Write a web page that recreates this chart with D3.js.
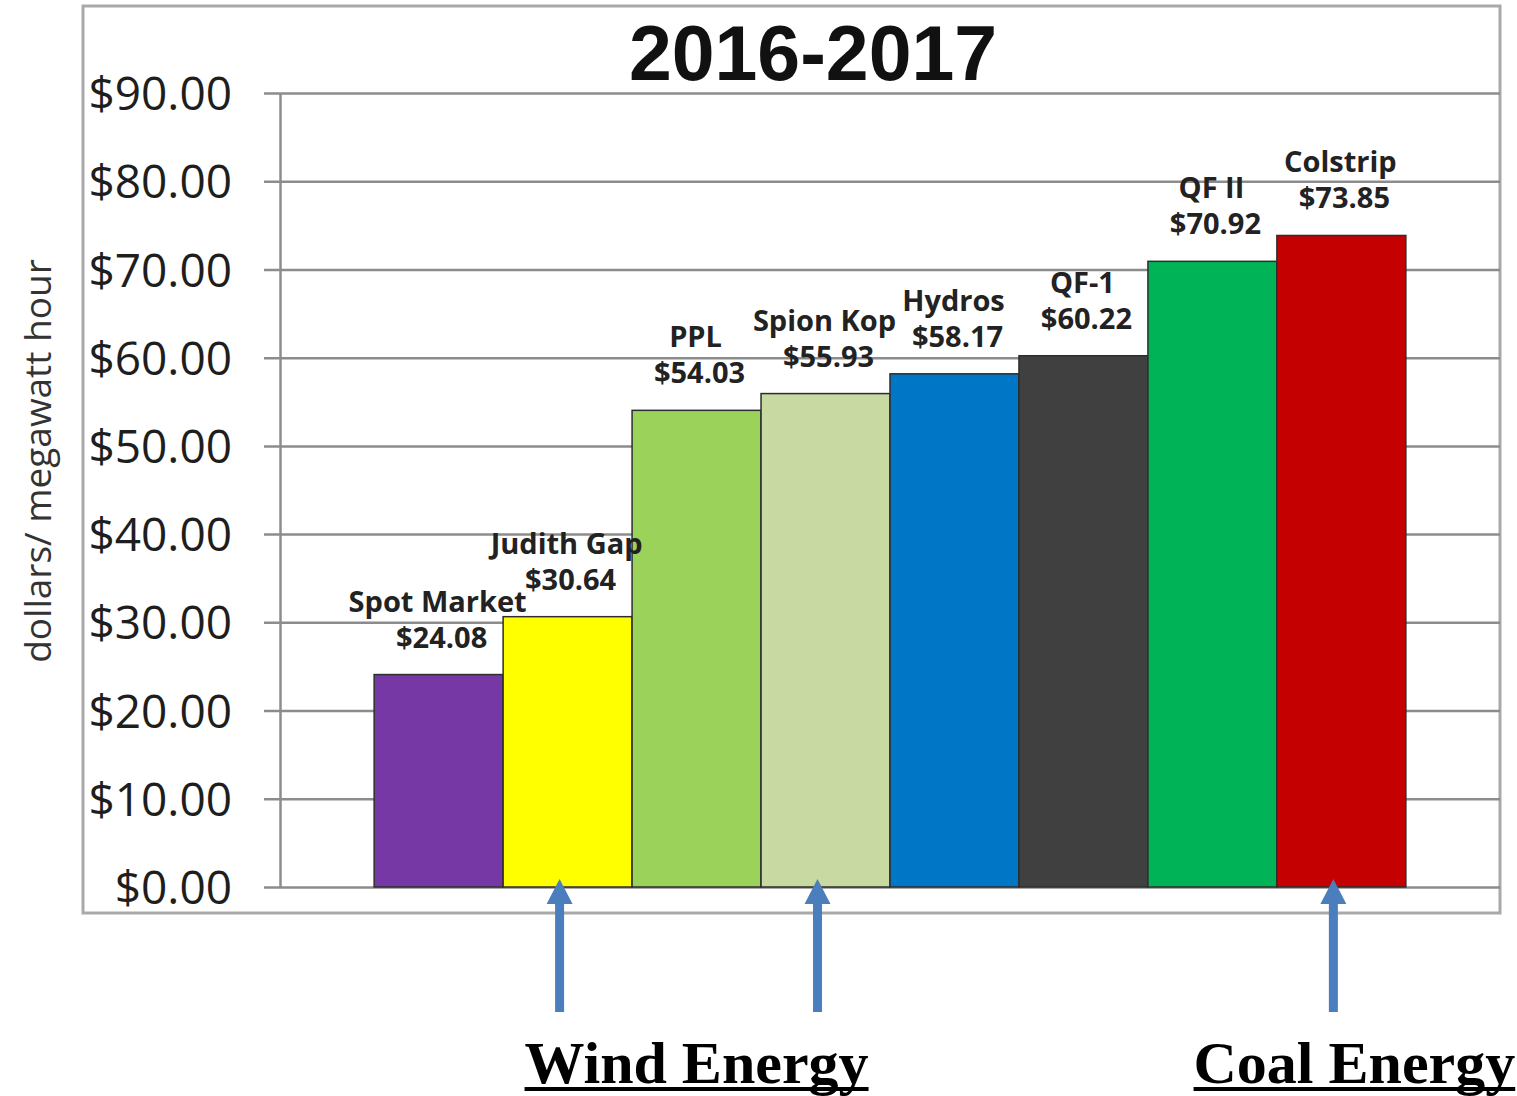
<!DOCTYPE html>
<html>
<head>
<meta charset="utf-8">
<script src="https://cdn.jsdelivr.net/npm/d3@7"></script>
<style>
  body { margin: 0; background: #fff; }
  svg { display: block; }
</style>
</head>
<body>
<div id="canvas"></div>
<script>
// data
var plants = ['Spot Market', 'Judith Gap', 'PPL', 'Spion Kop', 'Hydros', 'QF-1', 'QF II', 'Colstrip'];
var prices = [24.08, 30.64, 54.03, 55.93, 58.17, 60.22, 70.92, 73.85];
var barColors = ['#7638a4', '#ffff00', '#9bd35a', '#c8d9a1', '#0077c6', '#404040', '#00b356', '#c40000'];
var yTicks = [0, 10, 20, 30, 40, 50, 60, 70, 80, 90];
var groups = [
  {label: 'Wind Energy', plants: ['Judith Gap', 'Spion Kop']},
  {label: 'Coal Energy', plants: ['Colstrip']}
];

var W = 1517, H = 1096;
var m = {t: 93, r: 17, b: 209, l: 280};
var w = W - m.l - m.r,
    h = H - m.t - m.b;

var svg = d3.select('#canvas').append('svg')
    .attr('width', W)
    .attr('height', H);

// outer frame
svg.append('rect')
    .attr('x', 83).attr('y', 6)
    .attr('width', 1417).attr('height', 907)
    .attr('fill', 'none')
    .attr('stroke', '#a9a9a9')
    .attr('stroke-width', 3);

var plot = svg.append('g')
    .attr('transform', 'translate(' + m.l + ',' + m.t + ')');

var x = d3.scaleBand()
    .domain(plants)
    .range([0, w])
    .paddingInner(0)
    .paddingOuter(0.73);

var y = d3.scaleLinear()
    .domain([0, 90])
    .range([h, 0]);

// y axis with gridlines
var yAxis = d3.axisLeft(y)
    .tickValues(yTicks)
    .tickSize(-w)
    .tickSizeOuter(0)
    .tickPadding(48)
    .tickFormat(function(d){ return '$' + d3.format('.2f')(d); });

var ga = plot.append('g').attr('class', 'y axis').call(yAxis);
ga.select('.domain').attr('stroke', '#8c8c8c').attr('stroke-width', 2.5);
ga.selectAll('.tick line')
    .attr('x1', -16)
    .attr('stroke', '#8c8c8c')
    .attr('stroke-width', 2.5);
ga.selectAll('.tick text')
    .attr('x', -48)
    .attr('dy', '0.36em')
    .attr('fill', '#1e1e1e')
    .style('font-family', '"Open Sans", sans-serif')
    .style('font-size', '46px');

// bars
plot.selectAll('.bar')
    .data(plants)
    .enter().append('rect')
    .attr('class', 'bar')
    .attr('x', function(d){ return x(d); })
    .attr('y', function(d, i){ return y(prices[i]); })
    .attr('width', x.bandwidth())
    .attr('height', function(d, i){ return h - y(prices[i]); })
    .attr('fill', function(d, i){ return barColors[i]; })
    .attr('stroke', '#2e2e2e')
    .attr('stroke-width', 1.5);

// bar labels
var lab = plot.selectAll('.lab')
    .data(plants)
    .enter().append('g')
    .attr('class', 'lab')
    .attr('transform', function(d, i){
      return 'translate(' + (x(d) + x.bandwidth() / 2) + ',' + y(prices[i]) + ')';
    })
    .style('font-family', '"Open Sans", sans-serif')
    .style('font-weight', 'bold')
    .style('font-size', '29px')
    .attr('fill', '#222')
    .attr('text-anchor', 'middle');

lab.append('text')
    .attr('y', -63)
    .attr('x', -1)
    .text(function(d){ return d; });
lab.append('text')
    .attr('y', -27)
    .attr('x', 3)
    .text(function(d, i){ return '$' + prices[i].toFixed(2); });

// title
svg.append('text')
    .attr('x', 813).attr('y', 80)
    .attr('text-anchor', 'middle')
    .style('font-family', '"Liberation Sans", Arial, sans-serif')
    .style('font-weight', 'bold')
    .style('font-size', '77px')
    .attr('fill', '#111')
    .text('2016-2017');

// y axis title
svg.append('text')
    .attr('transform', 'translate(51,461) rotate(-90)')
    .attr('text-anchor', 'middle')
    .style('font-family', '"Open Sans", sans-serif')
    .style('font-size', '37px')
    .attr('fill', '#333')
    .text('dollars/ megawatt hour');

// arrows + group labels
var arrowCol = '#4a7ebd';
function cx(p){ return m.l + x(p) + x.bandwidth() / 2; }

groups.forEach(function(g){
  g.plants.forEach(function(p){
    // hand-drawn arrows sit a little left of the bar centres
    var ax = cx(p) - 8, tip = 879, base = 904, end = 1012;
    svg.append('path')
        .attr('d', 'M' + ax + ',' + tip +
                   'L' + (ax + 13) + ',' + base +
                   'L' + (ax + 4.5) + ',' + base +
                   'L' + (ax + 4.5) + ',' + end +
                   'L' + (ax - 4.5) + ',' + end +
                   'L' + (ax - 4.5) + ',' + base +
                   'L' + (ax - 13) + ',' + base + 'Z')
        .attr('fill', arrowCol);
  });

  var mx = d3.mean(g.plants, cx);
  var t = svg.append('text')
      .attr('x', mx + (g.plants.length == 1 ? 13 : 0))
      .attr('y', 1083)
      .attr('text-anchor', 'middle')
      .style('font-family', '"Liberation Serif", "Times New Roman", serif')
      .style('font-weight', 'bold')
      .style('font-size', '60px')
      .attr('fill', '#000')
      .text(g.label);
  var tw = t.node().getComputedTextLength();
  var tx = +t.attr('x');
  svg.append('line')
      .attr('x1', tx - tw / 2).attr('x2', tx + tw / 2)
      .attr('y1', 1089).attr('y2', 1089)
      .attr('stroke', '#000')
      .attr('stroke-width', 4);
});
</script>
</body>
</html>
